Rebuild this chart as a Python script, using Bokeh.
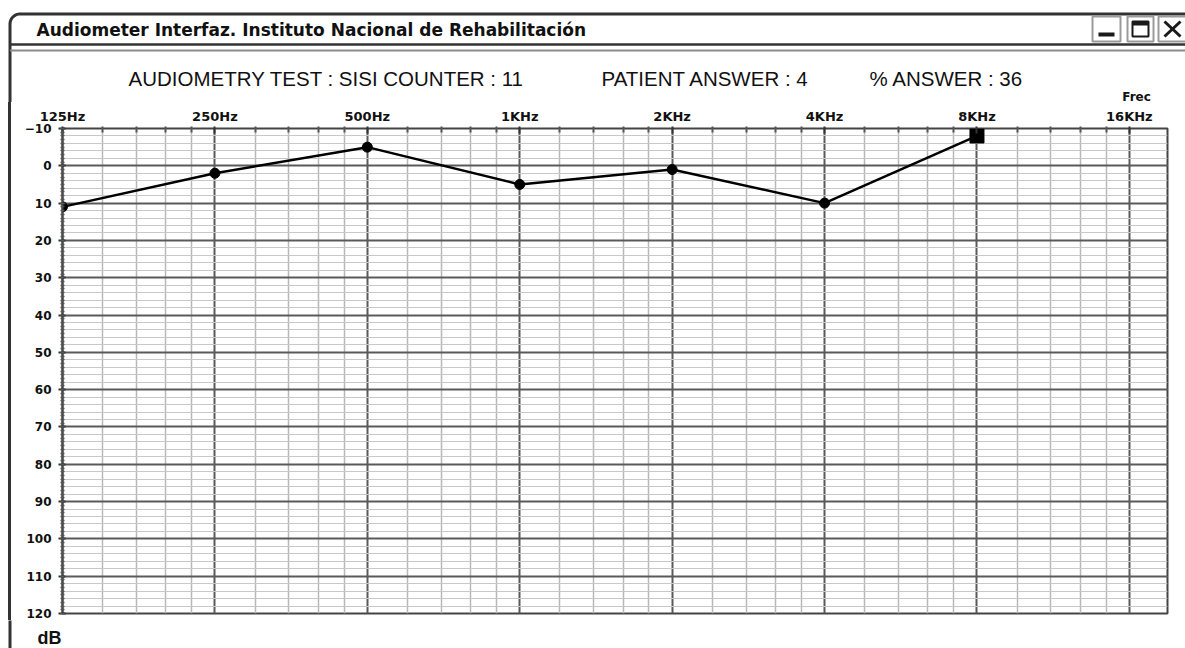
import numpy as np
from bokeh.plotting import figure
from bokeh.layouts import column, row
from bokeh.models import Range1d, FixedTicker, Spacer
from bokeh.core.properties import value
from bokeh.embed import file_html
from bokeh.resources import INLINE

# ---------------- data ----------------
freq_labels = ["125Hz", "250Hz", "500Hz", "1KHz", "2KHz", "4KHz", "8KHz", "16KHz"]
freq_hz = [125, 250, 500, 1000, 2000, 4000, 8000, 16000]
test_freq_hz = [125, 250, 500, 1000, 2000, 4000, 8000]
threshold_db = [11, 2, -5, 5, 1, 10, -8]
db_ticks = list(range(-10, 121, 10))
minor_factors = [1.2, 1.4, 1.6, 1.8]
window_title = "Audiometer Interfaz. Instituto Nacional de Rehabilitación"
header_texts = ["AUDIOMETRY TEST : SISI  COUNTER : 11", "PATIENT ANSWER : 4", "% ANSWER : 36"]
header_x = [128, 601, 869]

# ---------------- page geometry ----------------
W = 1185
HEAD_H, MID_H, FOOT_H = 102, 518, 28       # 0..102, 102..620, 620..648
GAP_W, LINE_W = 8, 3                       # left window border at x = 8..11
FL, FR, FT, FB = 62, 1167, 128, 613       # frame of the audiogram (page px)
BORDER = "#333333"


def deco_fig(w, h, y_top, fill="white"):
    f = figure(width=w, height=h, output_backend="svg", toolbar_location=None,
               x_range=Range1d(0, w), y_range=Range1d(y_top + h, y_top),
               x_axis_type=None, y_axis_type=None, title=None,
               min_border=0, min_border_left=0, min_border_right=0,
               min_border_top=0, min_border_bottom=0)
    f.outline_line_color = None
    f.background_fill_color = fill
    f.border_fill_color = fill
    return f


# ---------------- header (window title bar + status texts) ----------------
head = deco_fig(W, HEAD_H, 0)
ang = np.linspace(np.pi, 1.5 * np.pi, 12)
cx, cy, r = 19.5, 23.5, 10
corner_x = list(cx + r * np.cos(ang))
corner_y = list(cy + r * np.sin(ang))
head.line([9.5, 9.5] + corner_x[1:] + [W + 5], [HEAD_H + 5, cy] + corner_y[1:] + [13.5],
          line_color=BORDER, line_width=3)
head.segment(x0=[9.5, 9.5], y0=[44, 50], x1=[W, W], y1=[44, 50],
             line_color=["#333333", "#8a8a8a"], line_width=[2.5, 2])
head.quad(left=[1092, 1127, 1158], right=[1120, 1153, 1186], top=[16, 16, 16],
          bottom=[41, 41, 41], fill_color="white", line_color="#9a9a9a", line_width=2)
head.quad(left=[1098], right=[1114], top=[32], bottom=[36], fill_color="#1a1a1a",
          line_color=None)
head.quad(left=[1132], right=[1148], top=[21], bottom=[36], fill_color=None,
          line_color="#1a1a1a", line_width=2)
head.quad(left=[1132], right=[1148], top=[21], bottom=[25], fill_color="#1a1a1a",
          line_color=None)
head.segment(x0=[1164, 1164], y0=[21, 36], x1=[1180, 1180], y1=[36, 21],
             line_color="#1a1a1a", line_width=3)
head.text(x=[36], y=[29], text=[window_title], text_font=value("DejaVu Sans"),
          text_font_style="bold", text_font_size=value("17px"), text_align="left",
          text_baseline="middle", text_color="#111111")
head.text(x=header_x, y=[78] * 3, text=header_texts, text_font=value("Liberation Sans"),
          text_font_size=value("20.5px"), text_align="left", text_baseline="middle",
          text_color="#111111")
head.text(x=[1136], y=[96], text=["Frec"], text_font=value("DejaVu Sans"),
          text_font_style="bold", text_font_size=value("12px"), text_align="center",
          text_baseline="middle", text_color="#111111")

# ---------------- left window border (dark spacer strip) ----------------
gap = Spacer(width=GAP_W, height=MID_H)
strip = Spacer(width=LINE_W, height=MID_H, styles={"background-color": BORDER})

# ---------------- audiogram ----------------
X0, X1 = 0.0, 7.25
LEFT_W = GAP_W + LINE_W
p = figure(width=W - LEFT_W, height=MID_H, output_backend="svg", toolbar_location=None,
           x_range=Range1d(X0, X1), y_range=Range1d(120, -10),
           x_axis_location="above", title=None,
           min_border_left=FL - LEFT_W, min_border_right=W - FR,
           min_border_top=FT - HEAD_H, min_border_bottom=HEAD_H + MID_H - FB)
p.background_fill_color = "white"
p.border_fill_color = "white"
p.outline_line_color = "#444444"
p.outline_line_width = 2

oct_pos = [float(v) for v in np.log2(np.array(freq_hz) / 125.0)]
minor_x = [o + float(np.log2(m)) for o in oct_pos for m in minor_factors]
xticker = FixedTicker(ticks=oct_pos, minor_ticks=minor_x)

xa = p.xaxis[0]
xa.ticker = xticker
xa.major_label_overrides = {o: lab for o, lab in zip(oct_pos, freq_labels)}
xa.major_label_text_font = "DejaVu Sans"
xa.major_label_text_font_style = "bold"
xa.major_label_text_font_size = "13px"
xa.major_label_text_color = "#111111"
xa.major_label_standoff = 3
xa.axis_line_color = None
xa.major_tick_in = 5
xa.major_tick_out = 2
xa.minor_tick_in = 4
xa.minor_tick_out = 2
xa.major_tick_line_color = "#333333"
xa.major_tick_line_width = 2
xa.minor_tick_line_color = "#555555"
xa.minor_tick_line_width = 2

ya = p.yaxis[0]
ya.ticker = FixedTicker(ticks=db_ticks, minor_ticks=list(range(-10, 121, 1)))
ya.major_label_text_font = "DejaVu Sans"
ya.major_label_text_font_style = "bold"
ya.major_label_text_font_size = "12px"
ya.major_label_text_color = "#111111"
ya.major_label_standoff = 7
ya.axis_line_color = "#444444"
ya.axis_line_width = 2
ya.major_tick_in = 3
ya.major_tick_out = 4
ya.minor_tick_in = 2
ya.minor_tick_out = 2
ya.major_tick_line_color = "#333333"
ya.major_tick_line_width = 2
ya.minor_tick_line_color = "#555555"
ya.minor_tick_line_width = 1.5

p.xgrid.ticker = xticker
p.xgrid.grid_line_color = "#5a5a5a"
p.xgrid.grid_line_width = 2
p.xgrid.minor_grid_line_color = "#b8b8b8"
p.xgrid.minor_grid_line_width = 1.5

p.ygrid.ticker = FixedTicker(ticks=db_ticks, minor_ticks=list(range(-10, 121, 2)))
p.ygrid.grid_line_color = "#5a5a5a"
p.ygrid.grid_line_width = 2
p.ygrid.minor_grid_line_color = "#c8c8c8"
p.ygrid.minor_grid_line_width = 1.2

tx = [float(v) for v in np.log2(np.array(test_freq_hz) / 125.0)]
p.line(tx, threshold_db, line_color="black", line_width=2.5)
p.scatter(tx[:-1], threshold_db[:-1], size=10, marker="circle", color="black")
p.scatter(tx[-1:], threshold_db[-1:], size=14, marker="square", color="black")

# ---------------- footer ----------------
foot = deco_fig(W, FOOT_H, HEAD_H + MID_H)
foot.segment(x0=[9.5], y0=[HEAD_H + MID_H - 5], x1=[9.5], y1=[HEAD_H + MID_H + FOOT_H + 5],
             line_color=BORDER, line_width=3)
foot.text(x=[37], y=[637], text=["dB"], text_font=value("Liberation Sans"),
          text_font_style="bold", text_font_size=value("18px"), text_align="left",
          text_baseline="middle", text_color="#111111")

layout = column(head, row(gap, strip, p, spacing=0), foot, spacing=0)
open("out.html", "w").write(file_html(layout, INLINE))
